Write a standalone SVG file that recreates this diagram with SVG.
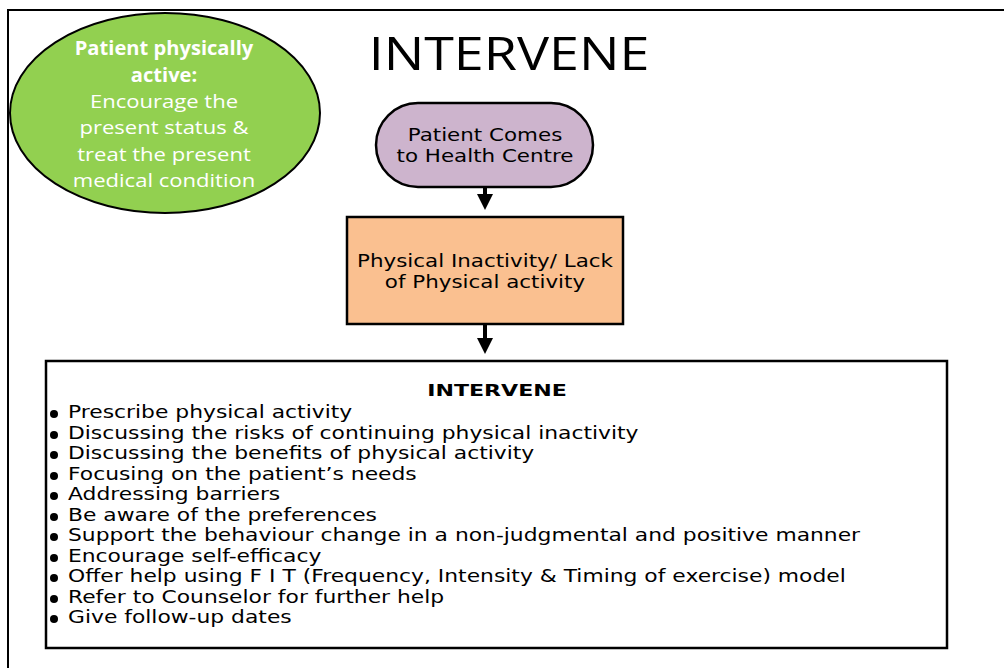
<svg xmlns="http://www.w3.org/2000/svg" width="1004" height="668" viewBox="0 0 1004 668">
<defs>
<style>
.v{font-family:"DejaVu Sans",Verdana,sans-serif;fill:#000}
.w{font-family:"Open Sans","Liberation Sans",sans-serif;fill:#fff;font-size:19px;text-anchor:middle}
</style>
<marker id="ah" markerWidth="4" markerHeight="4" refX="3" refY="2" orient="auto" markerUnits="strokeWidth">
<path d="M0,0 L4,2 L0,4 z" fill="#000"/>
</marker>
</defs>
<rect width="1004" height="668" fill="#fff"/>
<rect x="8" y="10" width="1010" height="680" fill="none" stroke="#000" stroke-width="2"/>
<text transform="translate(509,70) scale(1.17,1)" font-family="Open Sans,Liberation Sans,sans-serif" font-size="46" text-anchor="middle" fill="#000">INTERVENE</text>
<g id="active">
<ellipse cx="165" cy="113" rx="155" ry="100" fill="#92D050" stroke="#000" stroke-width="2"/>
<text class="w" font-weight="bold" transform="translate(164,55) scale(1.06,1)">Patient physically</text>
<text class="w" font-weight="bold" transform="translate(164,82) scale(1.06,1)">active:</text>
<text class="w" transform="translate(164,108) scale(1.16,1)">Encourage the</text>
<text class="w" transform="translate(164,134) scale(1.16,1)">present status &amp;</text>
<text class="w" transform="translate(164,161) scale(1.16,1)">treat the present</text>
<text class="w" transform="translate(164,187) scale(1.16,1)">medical condition</text>
</g>
<g id="comes">
<rect x="376" y="103" width="217" height="84" rx="42" ry="42" fill="#CDB4CD" stroke="#000" stroke-width="2.5"/>
<text class="v" font-size="17" text-anchor="middle" transform="translate(485,141) scale(1.26,1)">Patient Comes</text>
<text class="v" font-size="17" text-anchor="middle" transform="translate(485,162) scale(1.26,1)">to Health Centre</text>
</g>
<g id="inactivity">
<rect x="347" y="217" width="276" height="107" fill="#FAC090" stroke="#000" stroke-width="2.5"/>
<text class="v" font-size="17" text-anchor="middle" transform="translate(485,267) scale(1.26,1)">Physical Inactivity/ Lack</text>
<text class="v" font-size="17" text-anchor="middle" transform="translate(485,288) scale(1.26,1)">of Physical activity</text>
</g>
<g id="connectors" stroke="#000" stroke-width="4" fill="none">
<line x1="485" y1="188" x2="485" y2="206" marker-end="url(#ah)"/>
<line x1="485" y1="325" x2="485" y2="350" marker-end="url(#ah)"/>
</g>
<g id="intervene">
<rect x="46" y="361" width="901" height="287" fill="#fff" stroke="#000" stroke-width="2.5"/>
<text class="v" font-size="16" font-weight="bold" text-anchor="middle" transform="translate(497,396) scale(1.38,1)">INTERVENE</text>
<g fill="#000">
<circle cx="54" cy="414" r="4"/>
<circle cx="54" cy="435" r="4"/>
<circle cx="54" cy="455" r="4"/>
<circle cx="54" cy="476" r="4"/>
<circle cx="54" cy="496" r="4"/>
<circle cx="54" cy="517" r="4"/>
<circle cx="54" cy="537" r="4"/>
<circle cx="54" cy="558" r="4"/>
<circle cx="54" cy="578" r="4"/>
<circle cx="54" cy="599" r="4"/>
<circle cx="54" cy="619" r="4"/>
</g>
<g class="v" font-size="18" transform="translate(68,0) scale(1.213,1)">
<text x="0" y="418">Prescribe physical activity</text>
<text x="0" y="439">Discussing the risks of continuing physical inactivity</text>
<text x="0" y="459">Discussing the benefits of physical activity</text>
<text x="0" y="480">Focusing on the patient’s needs</text>
<text x="0" y="500">Addressing barriers</text>
<text x="0" y="521">Be aware of the preferences</text>
<text x="0" y="541">Support the behaviour change in a non-judgmental and positive manner</text>
<text x="0" y="562">Encourage self-efficacy</text>
<text x="0" y="582">Offer help using F I T (Frequency, Intensity &amp; Timing of exercise) model</text>
<text x="0" y="603">Refer to Counselor for further help</text>
<text x="0" y="623">Give follow-up dates</text>
</g>
</g>
</svg>
